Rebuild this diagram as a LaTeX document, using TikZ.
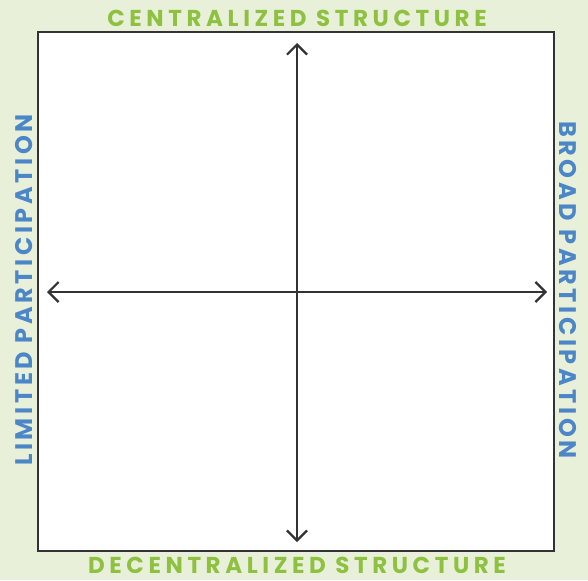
\documentclass[tikz,border=0pt]{standalone}
\usepackage{fontspec}
\setmainfont{Poppins}[UprightFont=* Bold, BoldFont=* Bold]
\usetikzlibrary{arrows.meta}
\definecolor{bgpale}{HTML}{E8F0DA}
\definecolor{leafgreen}{HTML}{8DC13F}
\definecolor{skyblue}{HTML}{4A86C8}
\definecolor{inkgray}{HTML}{333333}
\tikzset{
  axislabel/.style={font=\fontsize{23}{23}\selectfont\addfontfeatures{LetterSpace=20}, inner sep=0pt, anchor=center},
  sidelabel/.style={font=\fontsize{24}{24}\selectfont\addfontfeatures{LetterSpace=15}, inner sep=0pt, anchor=center, text=skyblue},
  barb/.tip={Straight Barb[length=10pt,width=20pt,line width=2.2pt]},
  axisline/.style={draw=inkgray, line width=2.2pt, barb-barb}
}
\begin{document}
\begin{tikzpicture}[x=1pt,y=-1pt]
  \fill[bgpale] (0,0) rectangle (588,580);
  \useasboundingbox (0,0) rectangle (588,580);
  \draw[inkgray, line width=2.5pt, fill=white] (38,32) rectangle (554,551);
  % axes
  \coordinate (top) at (297,43);
  \coordinate (bottom) at (297,542);
  \coordinate (left) at (47,292);
  \coordinate (right) at (547,292);
  \draw[axisline] (top) -- (bottom);
  \draw[axisline] (left) -- (right);
  % labels
  \node[axislabel, text=leafgreen] (north) at (297,18) {CENTRALIZED STRUCTURE};
  \node[axislabel, text=leafgreen] (south) at (297,565) {DECENTRALIZED STRUCTURE};
  \node[sidelabel, rotate=90] (west) at (24,290) {LIMITED PARTICIPATION};
  \node[sidelabel, rotate=-90] (east) at (568,290) {BROAD PARTICIPATION};
\end{tikzpicture}
\end{document}
